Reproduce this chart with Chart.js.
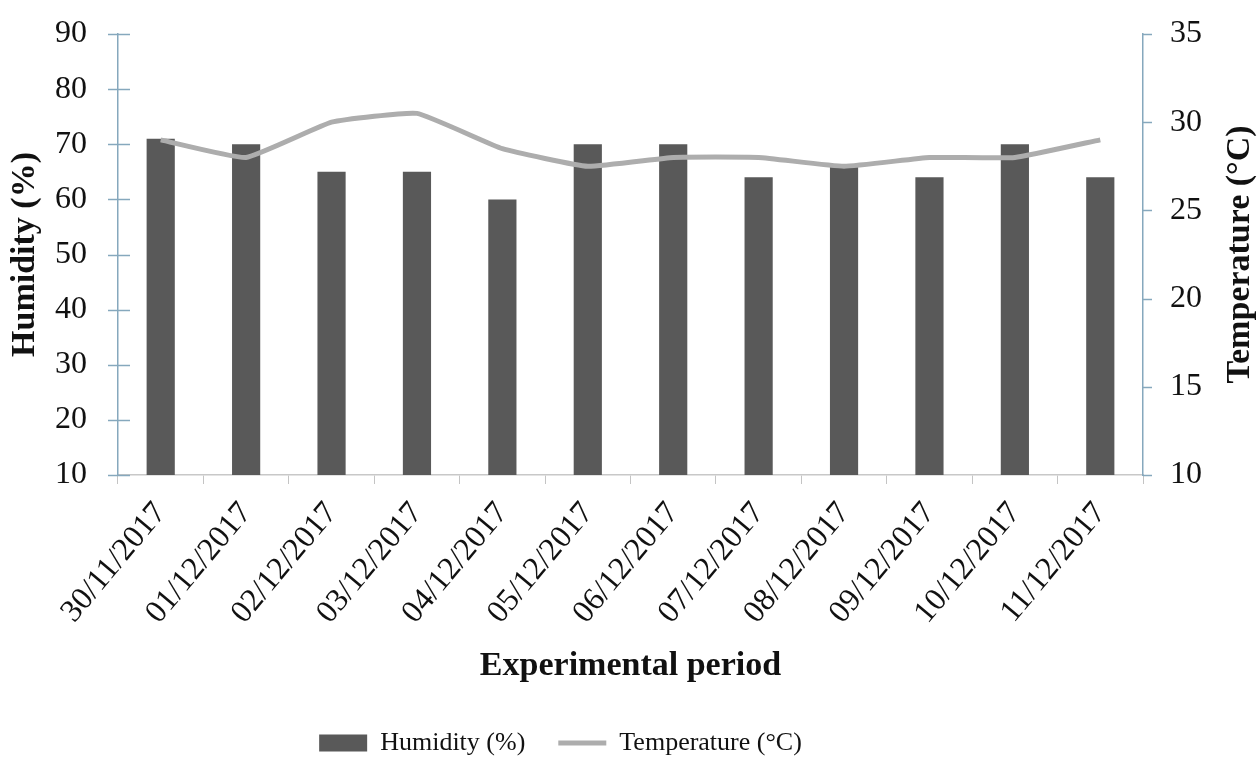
<!DOCTYPE html>
<html>
<head>
<meta charset="utf-8">
<script src="https://cdn.jsdelivr.net/npm/chart.js@4.4.1/dist/chart.umd.min.js"></script>
<style>
  html, body { margin: 0; padding: 0; background: #ffffff; }
  #wrap { width: 1257px; height: 758px; }
</style>
</head>
<body>
<div id="wrap"><canvas id="chart" width="1257" height="758"></canvas></div>
<script>
// Daily readings over the experimental period
const dates = ['30/11/2017', '01/12/2017', '02/12/2017', '03/12/2017', '04/12/2017', '05/12/2017',
               '06/12/2017', '07/12/2017', '08/12/2017', '09/12/2017', '10/12/2017', '11/12/2017'];
const humidity = [71, 70, 65, 65, 60, 70, 70, 64, 66, 64, 70, 64];
const temperature = [29, 28, 30, 30.5, 28.5, 27.5, 28, 28, 27.5, 28, 28, 29];

const humidityTicks = [10, 20, 30, 40, 50, 60, 70, 80, 90];
const temperatureTicks = [10, 15, 20, 25, 30, 35];

const SERIF = "'Liberation Serif', 'Times New Roman', serif";
const AXIS_BLUE = '#86a8bd';
const RIGHT_TITLE = 'Temperature (°C)';

// Tick marks crossing the value axes plus the right-hand axis title (reads bottom to top)
const axisDecor = {
  id: 'axisDecor',
  afterLayout(chart) {
    // legend row sits a little left of centre
    const lg = chart.legend;
    if (lg) { lg.left -= 68; lg.right -= 68; }
  },
  afterDraw(chart) {
    const ctx = chart.ctx;
    const yL = chart.scales.y;
    const yR = chart.scales.y1;
    ctx.save();
    ctx.strokeStyle = AXIS_BLUE;
    ctx.lineWidth = 1.5;
    yL.ticks.forEach((t, i) => {
      const p = Math.round(yL.getPixelForTick(i)) + 0.5;
      ctx.beginPath();
      ctx.moveTo(yL.right - 10, p);
      ctx.lineTo(yL.right + 12, p);
      ctx.stroke();
    });
    yR.ticks.forEach((t, i) => {
      const p = Math.round(yR.getPixelForTick(i)) + 0.5;
      ctx.beginPath();
      ctx.moveTo(yR.left, p);
      ctx.lineTo(yR.left + 9, p);
      ctx.stroke();
    });
    const area = chart.chartArea;
    ctx.translate(1240, (area.top + area.bottom) / 2);
    ctx.rotate(-Math.PI / 2);
    ctx.font = 'bold 34px ' + SERIF;
    ctx.fillStyle = '#111111';
    ctx.textAlign = 'center';
    ctx.textBaseline = 'middle';
    ctx.fillText(RIGHT_TITLE, 0, 0);
    ctx.restore();
  }
};

function fixedWidth(w) {
  return function (scale) {
    scale.width = w;
    scale.paddingTop = 0;
    scale.paddingBottom = 0;
  };
}

new Chart(document.getElementById('chart'), {
  type: 'bar',
  data: {
    labels: dates,
    datasets: [
      {
        type: 'bar',
        label: 'Humidity (%)',
        data: humidity,
        yAxisID: 'y',
        backgroundColor: '#595959',
        borderWidth: 0,
        barPercentage: 0.33,
        categoryPercentage: 1.0,
        pointStyle: 'rect',
        order: 1
      },
      {
        type: 'line',
        label: 'Temperature (°C)',
        data: temperature,
        yAxisID: 'y1',
        borderColor: '#adadad',
        backgroundColor: '#adadad',
        borderWidth: 5,
        pointRadius: 0,
        tension: 0.12,
        pointStyle: 'line',
        order: 0
      }
    ]
  },
  options: {
    responsive: false,
    devicePixelRatio: 1,
    animation: false,
    layout: { padding: { top: 34, left: 0, right: 0, bottom: -8 } },
    plugins: {
      tooltip: { enabled: false },
      legend: {
        position: 'bottom',
        labels: {
          usePointStyle: true,
          pointStyleWidth: 48,
          boxHeight: 17,
          padding: 33,
          color: '#111111',
          font: { family: SERIF, size: 26 },
          sort: (a, b) => a.datasetIndex - b.datasetIndex
        }
      }
    },
    scales: {
      x: {
        offset: true,
        grid: {
          display: true,
          drawOnChartArea: false,
          drawTicks: true,
          tickLength: 9,
          color: '#c4c4c4',
          offset: true
        },
        border: { display: true, color: '#c8c8c8', width: 1.5 },
        ticks: {
          autoSkip: false,
          minRotation: 50,
          maxRotation: 50,
          padding: 11,
          color: '#111111',
          font: { family: SERIF, size: 32 }
        },
        title: {
          display: true,
          text: 'Experimental period',
          color: '#111111',
          font: { family: SERIF, size: 34, weight: 'bold' },
          padding: { top: 0, bottom: 10 }
        },
        afterFit(scale) { scale.height = 222; }
      },
      y: {
        position: 'left',
        min: 10,
        max: 90,
        afterBuildTicks(scale) { scale.ticks = humidityTicks.map(v => ({ value: v })); },
        grid: { display: false, drawTicks: false },
        border: { display: true, color: AXIS_BLUE, width: 1.5 },
        ticks: {
          padding: 31,
          color: '#111111',
          font: { family: SERIF, size: 32 }
        },
        title: {
          display: true,
          text: 'Humidity (%)',
          color: '#111111',
          font: { family: SERIF, size: 34, weight: 'bold' },
          padding: { top: 5, bottom: 0 }
        },
        afterFit: fixedWidth(118)
      },
      y1: {
        position: 'right',
        min: 10,
        max: 35,
        afterBuildTicks(scale) { scale.ticks = temperatureTicks.map(v => ({ value: v })); },
        grid: { display: false, drawTicks: false },
        border: { display: true, color: AXIS_BLUE, width: 1.5 },
        ticks: {
          padding: 27,
          color: '#111111',
          font: { family: SERIF, size: 32 }
        },
        afterFit: fixedWidth(114)
      }
    }
  },
  plugins: [axisDecor]
});
</script>
</body>
</html>
